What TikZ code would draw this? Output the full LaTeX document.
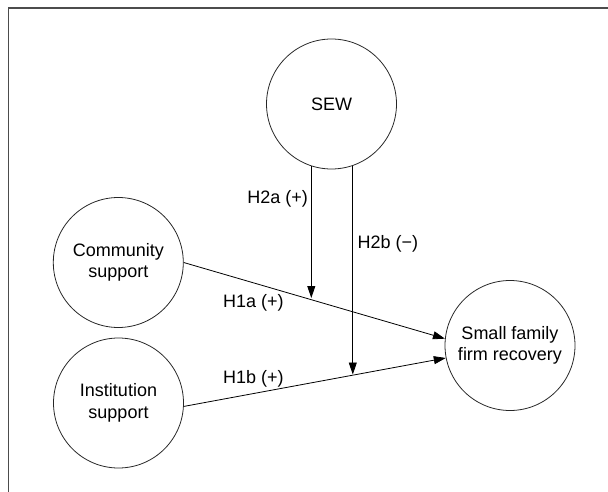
\documentclass[tikz,border=0pt]{standalone}
\usepackage{fontspec}
\setmainfont{Liberation Sans}
\usetikzlibrary{arrows.meta}
\begin{document}
\begin{tikzpicture}[x=1pt,y=-1pt,
  font=\fontsize{18}{21.5}\selectfont,
  var/.style={circle,draw=black!85,line width=0.8pt,minimum size=130pt,inner sep=0pt,align=center},
  arr/.style={draw=black,line width=0.8pt,-{Triangle[length=12pt,width=8pt]}},
  lbl/.style={inner sep=0pt}]
\useasboundingbox (0,0) rectangle (608,492);
% frame (only top and left edges visible)
\draw[black!70,line width=1.3pt] (8.5,492) -- (8.5,8) -- (608,8);
% variables
\node[var] (sew) at (331.5,104) {SEW};
\node[var] (comm) at (118.3,262.5) {Community\\support};
\node[var] (inst) at (118.5,403) {Institution\\support};
\node[var] (sff) at (510,345.5) {Small family\\firm recovery};
% direct effects
\draw[arr] (comm.east) -- (sff.174);
\draw[arr] (inst.357) -- (sff.191);
% moderation
\coordinate (h2aend) at (311.4,298);
\coordinate (h2bend) at (352.7,374.5);
\draw[arr] (sew.252) -- (sew.252 |- h2aend);
\draw[arr] (sew.289) -- (sew.289 |- h2bend);
% labels
\node[lbl] (l2a) at (277.7,199.3) {H2a (+)};
\node[lbl] (l2b) at (388,244) {H2b (−)};
\node[lbl] (l1a) at (253.3,303.3) {H1a (+)};
\node[lbl] (l1b) at (253.3,379) {H1b (+)};
\end{tikzpicture}
\end{document}
